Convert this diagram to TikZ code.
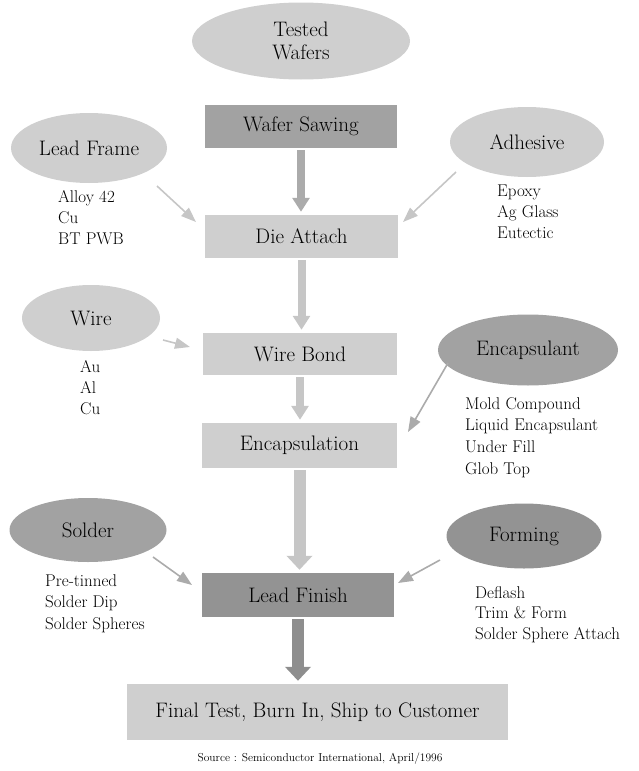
\documentclass[tikz,border=0pt]{standalone}
\usetikzlibrary{arrows.meta,calc,shapes.geometric}
\definecolor{lightfill}{HTML}{CFCFCF}
\definecolor{darkfill}{HTML}{A2A2A2}
\definecolor{darkerfill}{HTML}{939393}
\definecolor{arrowlight}{HTML}{C6C6C6}
\definecolor{arrowmid}{HTML}{ABABAB}
\definecolor{arrowdark}{HTML}{8E8E8E}
\tikzset{
  biglabel/.style={font=\fontsize{21}{24}\selectfont},
  procbox/.style={rectangle, draw=none, inner sep=0pt, biglabel},
  oval/.style={ellipse, draw=none, inner sep=0pt, biglabel, align=center},
  listtext/.style={font=\fontsize{17}{21}\selectfont, align=left, anchor=north west, inner sep=0pt},
  mainarrow/.style={line width=#1, -{Triangle[width=2.1*#1,length=14pt]}, shorten <=2pt, shorten >=3pt},
  sidearrow/.style={line width=1.6pt, -{Triangle[width=11pt,length=15pt]}},
}
\begin{document}
\begin{tikzpicture}[x=1pt,y=-1pt]
\useasboundingbox (0,0) rectangle (639,771);

% process boxes
\node[procbox, fill=darkfill, minimum width=192pt, minimum height=43pt] (ws) at (301,126.5) {Wafer Sawing};
\node[procbox, fill=lightfill, minimum width=193pt, minimum height=43pt] (da) at (301.5,236.5) {Die Attach};
\node[procbox, fill=lightfill, minimum width=194pt, minimum height=42pt] (wb) at (300,354) {Wire Bond};
\node[procbox, fill=lightfill, minimum width=195pt, minimum height=45pt] (en) at (299.5,445.5) {Encapsulation};
\node[procbox, fill=darkerfill, minimum width=192pt, minimum height=44pt] (lf) at (298,595) {Lead Finish};
\node[procbox, fill=lightfill, minimum width=381pt, minimum height=56pt] (ft) at (317.5,712) {Final Test, Burn In, Ship to Customer};

% ellipses
\node[oval, fill=lightfill, minimum width=218pt, minimum height=77pt, font=\fontsize{21}{23}\selectfont] (tw) at (301,41) {Tested\\Wafers};
\node[oval, fill=lightfill, minimum width=156pt, minimum height=70pt] (leadframe) at (89,148) {Lead Frame};
\node[oval, fill=lightfill, minimum width=154pt, minimum height=70pt] (adhesive) at (527,142) {Adhesive};
\node[oval, fill=lightfill, minimum width=138pt, minimum height=66pt] (wire) at (91,318) {Wire};
\node[oval, fill=darkfill, minimum width=180pt, minimum height=71pt] (encapsulant) at (528,350) {Encapsulant};
\node[oval, fill=darkfill, minimum width=157pt, minimum height=64pt] (solder) at (88,530) {Solder};
\node[oval, fill=darkerfill, minimum width=155pt, minimum height=65pt] (forming) at (524,536) {Forming};

% lists
\node[listtext] (lflist) at (58,190) {Alloy 42\\Cu\\BT PWB};
\node[listtext] (adlist) at (497,185) {Epoxy\\Ag Glass\\Eutectic};
\node[listtext] (wirelist) at (80,360) {Au\\Al\\Cu};
\node[listtext, font=\fontsize{17}{21.7}\selectfont] (enlist) at (465,397) {Mold Compound\\Liquid Encapsulant\\Under Fill\\Glob Top};
\node[listtext, font=\fontsize{17}{21.5}\selectfont] (solist) at (45,574) {Pre-tinned\\Solder Dip\\Solder Spheres};
\node[listtext, font=\fontsize{17}{20.5}\selectfont] (folist) at (475,586) {Deflash\\Trim \& Form\\Solder Sphere Attach};

% source
\node[font=\fontsize{11.5}{13}\selectfont, inner sep=0pt] (src) at (320,759) {Source : Semiconductor International, April/1996};

% main flow arrows
\draw[mainarrow=8pt, arrowmid] (ws.south) -- (ws.south |- da.north);
\draw[mainarrow=8pt, arrowlight] (da.south) -- (da.south |- wb.north);
\draw[mainarrow=8pt, arrowlight] (wb.south) -- (wb.south |- en.north);
\draw[mainarrow=12pt, arrowlight] (en.south) -- (en.south |- lf.north);
\draw[mainarrow=12pt, arrowdark] (lf.south) -- (lf.south |- ft.north);

% side arrows
\draw[sidearrow, arrowlight] ($(leadframe.center)+(68,38)$) -- ($(da.center)+(-105.5,-14.5)$);
\draw[sidearrow, arrowlight] ($(adhesive.center)+(-71,30)$) -- ($(da.center)+(101.5,-14.5)$);
\draw[sidearrow, arrowlight] ($(wire.center)+(72,22)$) -- ($(wb.center)+(-110,-7)$);
\draw[sidearrow, arrowmid] ($(encapsulant.center)+(-80,13)$) -- ($(en.center)+(108.5,-13.5)$);
\draw[sidearrow, arrowmid] ($(solder.center)+(65,27)$) -- ($(lf.center)+(-106,-10)$);
\draw[sidearrow, arrowmid] ($(forming.center)+(-84,24)$) -- ($(lf.center)+(100,-12)$);
\end{tikzpicture}
\end{document}
